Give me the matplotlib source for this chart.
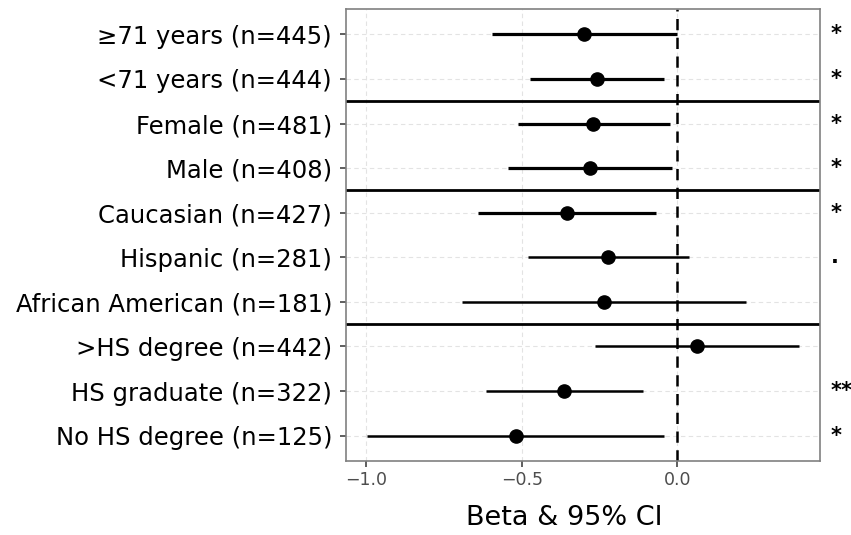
import numpy as np
import matplotlib.pyplot as plt
import matplotlib.transforms as mtransforms

labels = ['\u226571 years (n=445)', '<71 years (n=444)', 'Female (n=481)', 'Male (n=408)',
          'Caucasian (n=427)', 'Hispanic (n=281)', 'African American (n=181)',
          '>HS degree (n=442)', 'HS graduate (n=322)', 'No HS degree (n=125)']
beta = [-0.299, -0.259, -0.270, -0.282, -0.354, -0.222, -0.236, 0.062, -0.364, -0.520]
ci_low = [-0.595, -0.474, -0.511, -0.545, -0.641, -0.481, -0.692, -0.266, -0.616, -0.999]
ci_high = [0.0, -0.044, -0.023, -0.016, -0.068, 0.039, 0.221, 0.390, -0.111, -0.044]
signif = ['*', '*', '*', '*', '*', '.', '', '', '**', '*']
group_breaks = [1.5, 3.5, 6.5]
xticks = [-1.0, -0.5, 0.0]

fig = plt.figure(figsize=(8.51, 5.35), dpi=100)
ax = fig.add_axes([346/851, 1-461/535, 474/851, 452/535])

y = np.arange(len(labels))

# grid
for xv in xticks:
    ax.axvline(xv, color='#e3e3e3', lw=0.8, ls=(0, (4, 3)), zorder=0)
for yv in y:
    ax.axhline(yv, color='#e3e3e3', lw=0.8, ls=(0, (4, 3)), zorder=0)

ax.axvline(0, color='black', lw=1.8, ls=(0, (4.5, 3)), zorder=2)
for b in group_breaks:
    ax.axhline(b, color='black', lw=2.0, zorder=2)

for i in y:
    lw = 2.3 if i < 5 else 1.8
    ax.plot([ci_low[i], ci_high[i]], [i, i], color='black', lw=lw, solid_capstyle='butt', zorder=3)
ax.plot(beta, y, 'o', color='black', ms=9.5, zorder=4)

trans = mtransforms.blended_transform_factory(ax.transAxes, ax.transData)
for i, s in enumerate(signif):
    if s:
        ax.text(1.022, i, s, transform=trans, ha='left', va='center',
                fontsize=15, fontweight='bold', clip_on=False)

ax.set_xlim(-1.065, 0.459)
ax.set_ylim(len(labels) - 1 + 0.57, -0.57)
ax.set_yticks(y)
ax.set_yticklabels(labels, fontsize=17.5, color='black')
ax.set_xticks(xticks)
ax.set_xticklabels(['\u22121.0', '\u22120.5', '0.0'], fontsize=12.5, color='#4d4d4d')
ax.tick_params(axis='both', length=4, width=1.1, color='#333333', pad=3)
ax.tick_params(axis='y', pad=6)

for sp in ax.spines.values():
    sp.set_color('#808080')
    sp.set_linewidth(1.2)

ax.set_xlabel('Beta & 95% CI', fontsize=19.5)
ax.xaxis.set_label_coords((564-346)/474, -57/452)
ax.xaxis.label.set_va('center')

fig.savefig('out.png', dpi=100)
